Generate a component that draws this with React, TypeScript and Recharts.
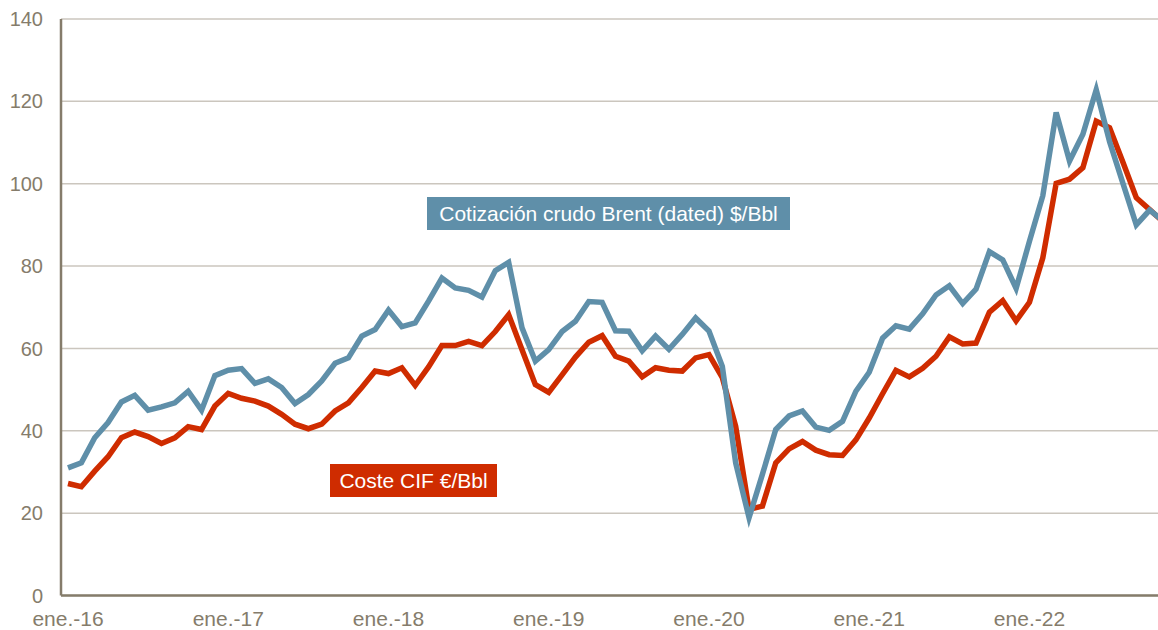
import React from 'react';
import { LineChart, Line, XAxis, YAxis, CartesianGrid } from 'recharts';

// Monthly series, Jan 2016 - Nov 2022
const monthNames = ['ene.', 'feb.', 'mar.', 'abr.', 'may.', 'jun.', 'jul.', 'ago.', 'sep.', 'oct.', 'nov.', 'dic.'];
const years = ['16', '17', '18', '19', '20', '21', '22'];

const brent = [
  31.0, 32.2, 38.3, 42.0, 47.0, 48.6, 45.0, 45.8, 46.8, 49.6, 45.0, 53.4,
  54.7, 55.1, 51.5, 52.6, 50.5, 46.6, 48.8, 52.1, 56.4, 57.7, 63.0, 64.6,
  69.3, 65.3, 66.2, 71.5, 77.1, 74.7, 74.1, 72.5, 78.9, 80.9, 65.0, 56.9,
  59.7, 64.1, 66.6, 71.4, 71.2, 64.3, 64.2, 59.4, 63.0, 59.8, 63.4, 67.4,
  64.2, 55.6, 32.2, 18.9, 29.4, 40.3, 43.6, 44.8, 40.9, 40.1, 42.3, 49.6,
  54.2, 62.5, 65.5, 64.7, 68.4, 73.0, 75.2, 70.9, 74.4, 83.5, 81.5, 74.6,
  86.0, 97.1, 117.3, 105.5, 112.0, 122.8, 110.2, 100.1, 90.0, 93.6, 91.0
];

const costeCif = [
  27.2, 26.4, 30.2, 33.7, 38.3, 39.7, 38.6, 36.9, 38.3, 41.0, 40.3, 46.0,
  49.1, 47.9, 47.2, 46.0, 44.0, 41.6, 40.5, 41.6, 44.8, 46.8, 50.5, 54.5,
  53.9, 55.3, 51.0, 55.5, 60.7, 60.7, 61.7, 60.7, 64.1, 68.2, 59.7, 51.2,
  49.3, 53.6, 57.9, 61.5, 63.1, 58.1, 56.9, 53.1, 55.3, 54.7, 54.5, 57.7,
  58.5, 52.9, 41.1, 20.9, 21.7, 32.2, 35.6, 37.4, 35.3, 34.2, 34.0, 37.8,
  43.1, 49.0, 54.7, 53.1, 55.2, 58.1, 62.8, 61.1, 61.3, 68.8, 71.6, 66.7,
  71.2, 82.0, 100.1, 101.1, 103.9, 115.2, 113.6, 105.2, 96.6, 93.7, 90.8
];

const yTicks = [0, 20, 40, 60, 80, 100, 120, 140];

const categories: string[] = [];
years.forEach((y) => monthNames.forEach((m) => categories.push(`${m}-${y}`)));

const data = brent.map((b, i) => ({
  month: categories[i],
  brent: b,
  coste: costeCif[i]
}));

const axisColor = '#857c6b';
const gridColor = '#cbc6be';
const blue = '#5f8fa9';
const red = '#cf2c00';

export default function App() {
  return <div style={{
    position: 'fixed',
    left: 0,
    top: 0,
    width: 1158,
    height: 630,
    overflow: 'hidden',
    background: '#fff',
    fontFamily: 'Arial, "Liberation Sans", sans-serif'
  }}>
      <LineChart width={1170} height={630} data={data} margin={{
      top: 19,
      right: 0,
      left: 0,
      bottom: 4
    }}>
        <CartesianGrid vertical={false} stroke={gridColor} strokeWidth={1.5} />
        <XAxis dataKey="month" interval={11} padding={{
        left: 7,
        right: 7
      }} height={30.5} tickSize={0} tickMargin={16} stroke={axisColor} strokeWidth={2.5} tick={{
        fill: axisColor,
        fontSize: 21
      }} />
        <YAxis domain={[0, 140]} ticks={yTicks} width={61} tickSize={0} tickMargin={18} stroke={axisColor} strokeWidth={2.5} tick={{
        fill: axisColor,
        fontSize: 20
      }} />
        <Line type="linear" dataKey="coste" stroke={red} strokeWidth={5.5} dot={false} isAnimationActive={false} />
        <Line type="linear" dataKey="brent" stroke={blue} strokeWidth={5.5} dot={false} isAnimationActive={false} />
      </LineChart>
      <div style={{
      position: 'absolute',
      left: 427,
      top: 197,
      width: 363,
      height: 33,
      background: blue,
      color: '#fff',
      fontSize: 21,
      lineHeight: '33px',
      textAlign: 'center'
    }}>Cotización crudo Brent (dated) $/Bbl</div>
      <div style={{
      position: 'absolute',
      left: 330,
      top: 464,
      width: 167,
      height: 33,
      background: red,
      color: '#fff',
      fontSize: 21,
      lineHeight: '33px',
      textAlign: 'center'
    }}>Coste CIF €/Bbl</div>
    </div>;
}
